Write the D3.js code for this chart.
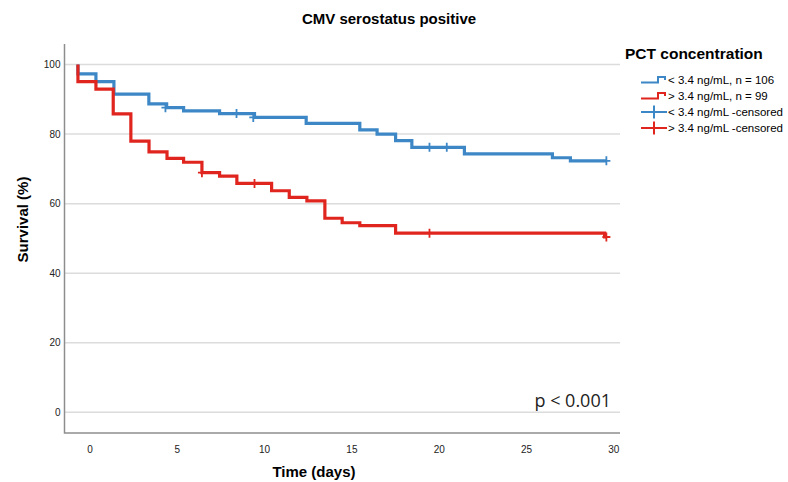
<!DOCTYPE html>
<html>
<head>
<meta charset="utf-8">
<script src="https://cdn.jsdelivr.net/npm/d3@7"></script>
<style>
  html, body { margin: 0; padding: 0; background: #fff; }
  svg { display: block; font-family: "Liberation Sans", Arial, sans-serif; }
</style>
</head>
<body>
<div id="chart"></div>
<script>
// Kaplan-Meier steps: time (days) and survival (%) after each step
const lowTimes = [-0.66, -0.66, 0.37, 1.40, 3.40, 4.42, 5.39, 7.45, 9.45, 12.41, 15.48, 16.47, 17.53, 18.46, 21.47, 26.51, 27.54, 29.6]
const lowSurv  = [100, 97.3, 95.1, 91.5, 88.7, 87.6, 86.7, 85.9, 84.8, 83.1, 81.2, 80.0, 78.1, 76.2, 74.3, 73.2, 72.3, 72.3]
const lowCensorTimes = [4.35, 8.42, 9.38, 19.47, 20.46, 29.6]
const lowCensorSurv  = [87.6, 85.9, 84.8, 76.2, 76.2, 72.3]

const highTimes = [-0.66, -0.66, 0.37, 1.36, 2.37, 3.41, 4.44, 5.39, 6.44, 7.45, 8.44, 10.43, 11.44, 12.45, 13.48, 14.47, 15.48, 17.53, 29.5, 29.6]
const highSurv  = [100, 95.1, 92.9, 85.8, 78.0, 74.9, 73.0, 71.9, 68.9, 67.9, 65.8, 63.7, 61.8, 60.8, 55.8, 54.5, 53.7, 51.5, 50.4, 50.4]
const highCensorTimes = [6.44, 9.45, 19.47, 29.6]
const highCensorSurv  = [68.9, 65.8, 51.5, 50.4]

const xTicks = [0, 5, 10, 15, 20, 25, 30]
const yTicks = [0, 20, 40, 60, 80, 100]

const seriesNames = ['< 3.4 ng/mL, n = 106', '> 3.4 ng/mL, n = 99']
const censorNames = ['< 3.4 ng/mL -censored', '> 3.4 ng/mL -censored']
const colors = ['#3d87c6', '#e0251f']

const width = 788
const height = 482

const svg = d3.select('#chart')
  .append('svg')
  .attr('width', width)
  .attr('height', height)

const x = d3.scaleLinear().domain([-1.43, 30.38]).range([64.5, 620])
const y = d3.scaleLinear().domain([-5.95, 105.9]).range([433, 44])

// Gridlines
svg.append('g')
  .selectAll('line')
  .data(yTicks)
  .join('line')
  .attr('x1', x.range()[0])
  .attr('x2', x.range()[1])
  .attr('y1', d => y(d))
  .attr('y2', d => y(d))
  .attr('stroke', '#dcdcdc')
  .attr('stroke-width', 1.5)

// Axes
const xAxis = svg.append('g')
  .attr('transform', `translate(0,${y.range()[0]})`)
  .call(d3.axisBottom(x).tickValues(xTicks).tickSize(0).tickPadding(12.5))
xAxis.select('.domain').remove()

const yAxis = svg.append('g')
  .attr('transform', `translate(${x.range()[0]},0)`)
  .call(d3.axisLeft(y).tickValues(yTicks).tickSize(0).tickPadding(4))
yAxis.select('.domain').remove()

svg.selectAll('.tick text')
  .style('font-family', '"Liberation Sans", Arial, sans-serif')
  .style('font-size', '10px')
  .attr('fill', '#222')

svg.append('path')
  .attr('d', `M${x.range()[0]},${y.range()[1]}V${y.range()[0]}H${x.range()[1]}`)
  .attr('fill', 'none')
  .attr('stroke', '#8e8e8e')
  .attr('stroke-width', 1.5)

// Survival curves
const line = d3.line()
  .x(d => x(d[0]))
  .y(d => y(d[1]))
  .curve(d3.curveStepAfter)

const curves = [
  d3.zip(lowTimes, lowSurv),
  d3.zip(highTimes, highSurv)
]
const censors = [
  d3.zip(lowCensorTimes, lowCensorSurv),
  d3.zip(highCensorTimes, highCensorSurv)
]

curves.forEach((pts, i) => {
  svg.append('path')
    .datum(pts)
    .attr('d', line)
    .attr('fill', 'none')
    .attr('stroke', colors[i])
    .attr('stroke-width', 3.2)
    .attr('stroke-linejoin', 'miter')
})

censors.forEach((pts, i) => {
  svg.append('g')
    .selectAll('path')
    .data(pts)
    .join('path')
    .attr('d', d => {
      const cx = x(d[0]), cy = y(d[1])
      return `M${cx},${cy - 4.5}V${cy + 4.5}M${cx - 4},${cy}H${cx + 4}`
    })
    .attr('stroke', colors[i])
    .attr('stroke-width', 1.8)
})

// Titles
svg.append('text')
  .attr('x', 389)
  .attr('y', 24)
  .attr('text-anchor', 'middle')
  .style('font-size', '15px')
  .style('font-weight', 'bold')
  .text('CMV serostatus positive')

svg.append('text')
  .attr('x', 314)
  .attr('y', 477)
  .attr('text-anchor', 'middle')
  .style('font-size', '15px')
  .style('font-weight', 'bold')
  .text('Time (days)')

svg.append('text')
  .attr('transform', 'translate(27.5,219.5) rotate(-90)')
  .attr('text-anchor', 'middle')
  .style('font-size', '15px')
  .style('font-weight', 'bold')
  .text('Survival (%)')

svg.append('text')
  .attr('x', 611)
  .attr('y', 407)
  .attr('text-anchor', 'end')
  .style('font-family', '"Open Sans", sans-serif')
  .style('font-size', '18px')
  .attr('fill', '#222')
  .text('p < 0.001')

// Legend
const legend = svg.append('g').attr('transform', 'translate(625,0)')

legend.append('text')
  .attr('x', 0)
  .attr('y', 58.5)
  .style('font-size', '15.5px')
  .style('font-weight', 'bold')
  .text('PCT concentration')

const rowY = [80, 96, 112, 128]

seriesNames.forEach((name, i) => {
  const ry = rowY[i]
  legend.append('path')
    .attr('d', `M16,${ry + 2.5}H33V${ry - 3}H40V${ry}`)
    .attr('fill', 'none')
    .attr('stroke', colors[i])
    .attr('stroke-width', 2)
  legend.append('text')
    .attr('x', 43)
    .attr('y', ry + 4)
    .style('font-size', '11.5px')
    .text(name)
})

censorNames.forEach((name, i) => {
  const ry = rowY[i + 2]
  legend.append('path')
    .attr('d', `M16,${ry}H42M29,${ry - 6.5}V${ry + 6.5}`)
    .attr('fill', 'none')
    .attr('stroke', colors[i])
    .attr('stroke-width', 2)
  legend.append('text')
    .attr('x', 43)
    .attr('y', ry + 4)
    .style('font-size', '11.5px')
    .text(name)
})
</script>
</body>
</html>
